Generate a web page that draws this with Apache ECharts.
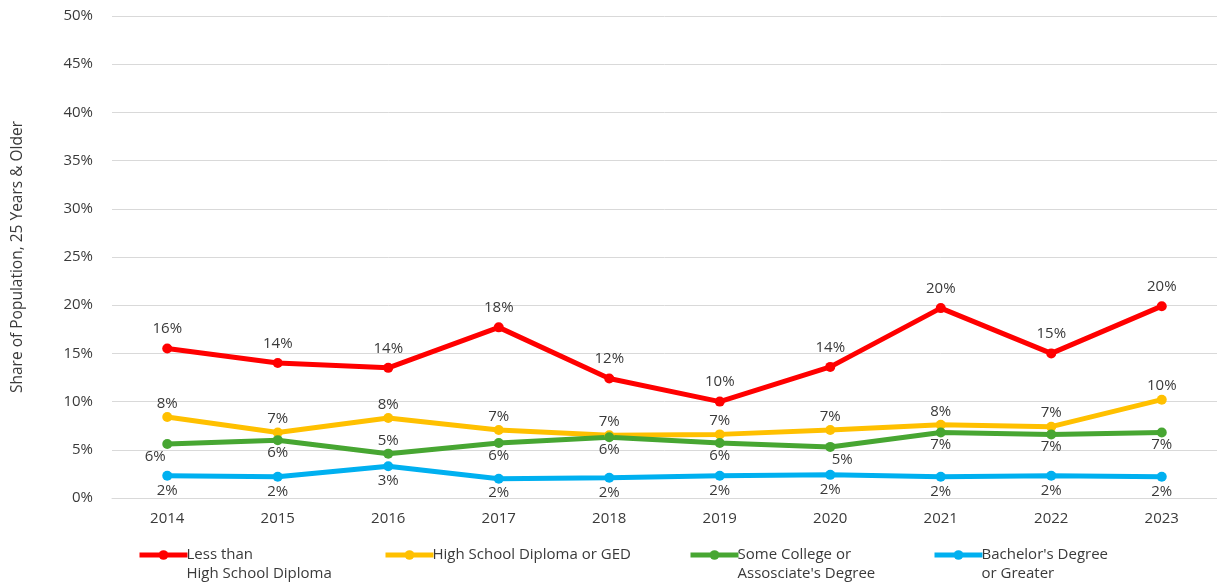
<!DOCTYPE html>
<html>
<head>
<meta charset="utf-8">
<script src="https://cdn.jsdelivr.net/npm/echarts@6/dist/echarts.min.js"></script>
<style>
html,body{margin:0;padding:0;background:#fff;}
#chart{width:1217px;height:583px;}
</style>
</head>
<body>
<div id="chart"></div>
<script>
const years = ['2014','2015','2016','2017','2018','2019','2020','2021','2022','2023'];
const lessThanHS = [15.5, 14.0, 13.5, 17.7, 12.4, 10.0, 13.6, 19.7, 15.0, 19.9];
const hsDiploma = [8.4, 6.8, 8.3, 7.05, 6.5, 6.6, 7.05, 7.6, 7.4, 10.2];
const someCollege = [5.6, 6.0, 4.6, 5.7, 6.3, 5.7, 5.3, 6.8, 6.6, 6.8];
const bachelors = [2.3, 2.2, 3.3, 2.0, 2.1, 2.3, 2.4, 2.2, 2.3, 2.2];
const yTicks = [0, 5, 10, 15, 20, 25, 30, 35, 40, 45, 50];
const seriesNames = ['Less than\nHigh School Diploma', 'High School Diploma or GED', 'Some College or\nAssosciate\'s Degree', 'Bachelor\'s Degree\nor Greater'];

const FONT = '"Open Sans", sans-serif';
const TXT = '#3a3a3a';
const FS = 15;
const colors = ['#ff0000', '#ffc000', '#47a632', '#00b0f0'];
const fmt = p => Math.round(p.value) + '%';

function mkSeries(name, data, color, pos, dist, overrides) {
  return {
    name: name,
    type: 'line',
    data: data.map((v, i) => (overrides && overrides[i]) ? {value: v, label: overrides[i]} : v),
    color: color,
    symbol: 'circle',
    symbolSize: 10,
    lineStyle: {width: 5, color: color},
    itemStyle: {color: color},
    label: {show: true, position: pos, distance: dist, formatter: fmt, color: TXT, fontFamily: FONT, fontSize: FS},
    emphasis: {disabled: true},
    animation: false
  };
}

const legendLefts = [137, 383, 688, 932];
const ICON_Y = 555, LH = 19;
const chart = echarts.init(document.getElementById('chart'));
chart.setOption({
  backgroundColor: '#fff',
  grid: {left: 112, top: 16, width: 1111, height: 482},
  xAxis: {
    type: 'category',
    data: years,
    boundaryGap: true,
    axisLine: {show: true, lineStyle: {color: '#d9d9d9', width: 1}},
    axisTick: {show: false},
    axisLabel: {color: TXT, fontFamily: FONT, fontSize: FS, margin: 13}
  },
  yAxis: {
    type: 'value',
    min: 0, max: 50, interval: 5,
    name: 'Share of Population, 25 Years & Older',
    nameLocation: 'middle',
    nameGap: 86,
    nameTextStyle: {color: TXT, fontFamily: FONT, fontSize: 15.5},
    axisLine: {show: false},
    axisTick: {show: false},
    splitLine: {lineStyle: {color: '#d9d9d9', width: 1}},
    axisLabel: {
      color: TXT, fontFamily: FONT, fontSize: FS, margin: 19,
      formatter: v => (yTicks.indexOf(v) >= 0 ? v + '%' : '')
    }
  },
  legend: seriesNames.map((n, i) => {
    const L = n.split('\n').length;
    return {
      data: [n],
      left: legendLefts[i],
      top: ICON_Y - LH * (2 * L - 1) / 2,
      orient: 'horizontal',
      itemWidth: 48,
      itemHeight: 12,
      itemGap: 0,
      padding: 0,
      lineStyle: {width: 5},
      formatter: name => '\n'.repeat(name.split('\n').length - 1) + name,
      textStyle: {color: TXT, fontFamily: FONT, fontSize: FS, lineHeight: LH, padding: [0, 0, 0, -6]},
      selectedMode: false
    };
  }),
  series: [
    mkSeries(seriesNames[0], lessThanHS, colors[0], 'top', 7),
    mkSeries(seriesNames[1], hsDiploma, colors[1], 'top', 1),
    mkSeries(seriesNames[2], someCollege, colors[2], 'bottom', 0,
      {0: {offset: [-12, 0]}, 2: {position: 'top', distance: 0}, 6: {offset: [12, 0]}}),
    mkSeries(seriesNames[3], bachelors, colors[3], 'bottom', 2)
  ]
});
</script>
</body>
</html>
